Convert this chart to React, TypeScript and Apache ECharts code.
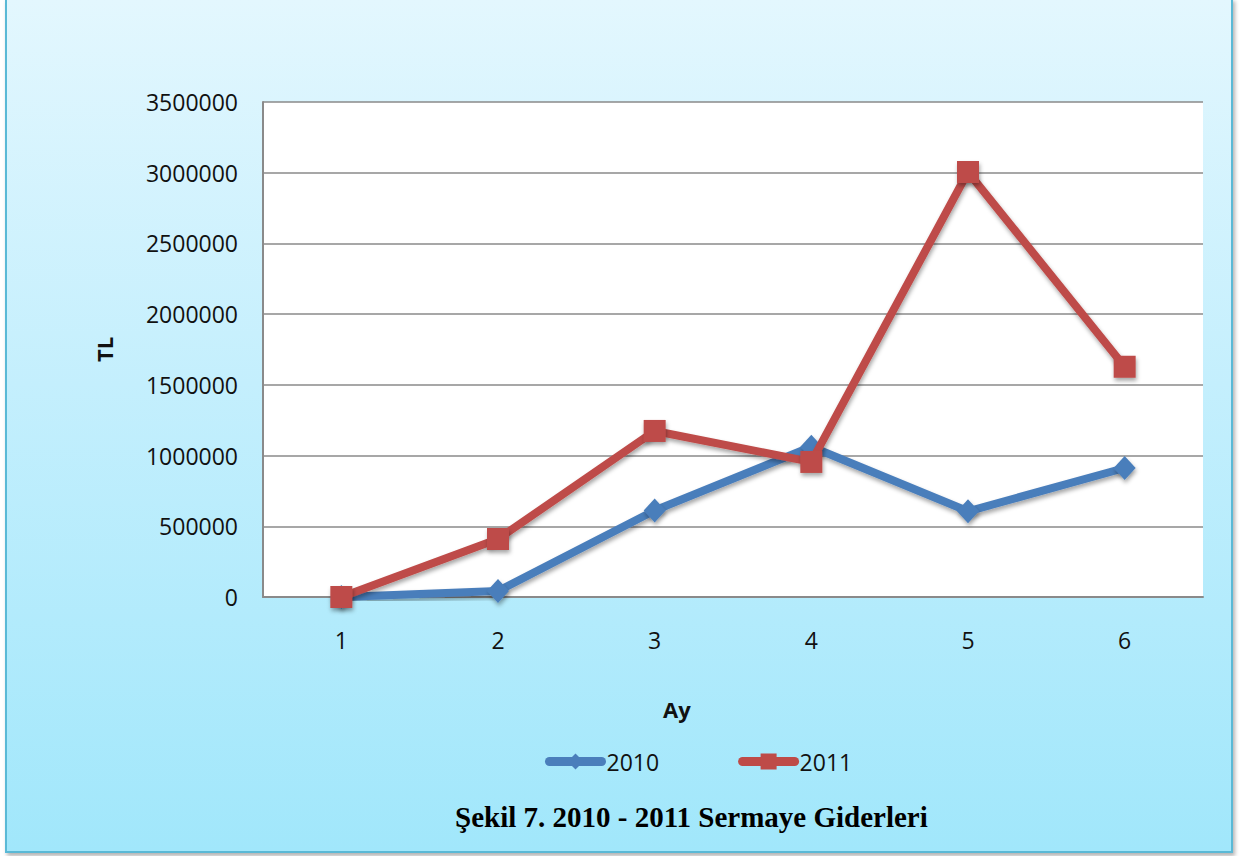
import React, { useEffect, useRef } from "react";
import * as echarts from "echarts";

const categories = ["1", "2", "3", "4", "5", "6"];
const series2010 = [0, 42000, 612000, 1062000, 606000, 912000];
const series2011 = [0, 410000, 1174000, 955000, 3005000, 1628000];
const yTicks = { min: 0, max: 3500000, interval: 500000 };
const seriesNames = ["2010", "2011"];
const titleText = "Şekil 7. 2010 - 2011 Sermaye Giderleri";
const yName = "TL";
const xName = "Ay";

const BLUE = "#4a7ebb";
const RED = "#be4b48";
const SANS = "'Open Sans', 'Noto Sans', sans-serif";

export default function App() {
  const ref = useRef<HTMLDivElement>(null);
  useEffect(() => {
    if (!ref.current) return;
    const chart = echarts.init(ref.current, null, { renderer: "svg" });
    const shadow = {
      shadowBlur: 4,
      shadowColor: "rgba(0,0,0,0.35)",
      shadowOffsetX: 1,
      shadowOffsetY: 3,
    };
    chart.setOption({
      animation: false,
      backgroundColor: "transparent",
      grid: {
        left: 263,
        right: 36,
        top: 102,
        bottom: 259,
        show: true,
        backgroundColor: "#ffffff",
        borderWidth: 0,
      },
      xAxis: {
        type: "category",
        data: categories,
        boundaryGap: true,
        axisLine: { show: true, lineStyle: { color: "#8a8a8a", width: 2 } },
        axisTick: { show: false },
        axisLabel: { color: "#111", fontFamily: SANS, fontSize: 23, margin: 31 },
      },
      yAxis: {
        type: "value",
        min: yTicks.min,
        max: yTicks.max,
        interval: yTicks.interval,
        name: yName,
        nameLocation: "middle",
        nameGap: 148,
        nameRotate: 90,
        nameTextStyle: { color: "#111", fontFamily: SANS, fontSize: 22, fontWeight: "bold" },
        axisLine: { show: true, lineStyle: { color: "#8a8a8a", width: 2 } },
        axisTick: { show: false },
        axisLabel: {
          color: "#111",
          fontFamily: SANS,
          fontSize: 23,
          margin: 25,
          formatter: (v: number) => String(v),
        },
        splitLine: { show: true, lineStyle: { color: "#8a8a8a", width: 1.5 } },
      },
      legend: {
        data: seriesNames,
        left: 540,
        top: 745,
        itemWidth: 52,
        itemHeight: 20,
        itemGap: 79,
        textStyle: { color: "#111", fontFamily: SANS, fontSize: 23 },
        lineStyle: { width: 9, cap: "round" },
      },
      graphic: [
        {
          type: "text",
          left: 663,
          top: 698,
          style: {
            text: xName,
            fill: "#111",
            font: `bold 22px ${SANS}`,
          },
        },
        {
          type: "text",
          left: 455,
          top: 802,
          style: {
            text: titleText,
            fill: "#000",
            font: "bold 29px 'Liberation Serif', 'Times New Roman', serif",
          },
        },
      ],
      series: [
        {
          name: seriesNames[0],
          type: "line",
          data: series2010,
          symbol: "diamond",
          symbolSize: [22, 24],
          color: BLUE,
          lineStyle: { color: BLUE, width: 8, cap: "round", join: "round", ...shadow },
          itemStyle: { color: BLUE, ...shadow },
          z: 2,
        },
        {
          name: seriesNames[1],
          type: "line",
          data: series2011,
          symbol: "rect",
          symbolSize: 22,
          color: RED,
          lineStyle: { color: RED, width: 8, cap: "round", join: "round", ...shadow },
          itemStyle: { color: RED, ...shadow },
          z: 3,
        },
      ],
    });
    return () => chart.dispose();
  }, []);

  return (
    <div
      style={{
        position: "absolute",
        left: 0,
        top: 0,
        width: 1239,
        height: 856,
        background: "#ffffff",
        overflow: "hidden",
      }}
    >
      <div
        style={{
          position: "absolute",
          left: 5,
          top: -2,
          width: 1224,
          height: 851,
          background: "linear-gradient(to bottom, #e3f7fe 0%, #c4effd 45%, #a1e7fb 100%)",
          border: "2px solid #5ab9d6",
          boxShadow: "2px 3px 4px rgba(0,0,0,0.3)",
        }}
      />
      <div ref={ref} style={{ position: "absolute", left: 0, top: 0, width: 1239, height: 856 }} />
    </div>
  );
}
